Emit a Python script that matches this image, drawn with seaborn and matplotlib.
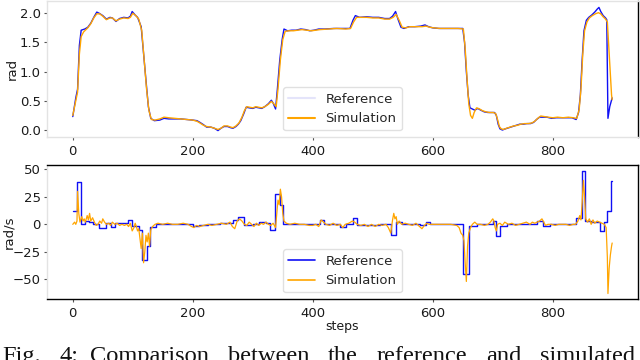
import matplotlib
matplotlib.use("Agg")
import matplotlib.pyplot as plt
from matplotlib.lines import Line2D
import seaborn as sns

# ---------------- data ----------------
# top panel: joint angle [rad]
ang_ref_steps = [0, 5, 8, 11, 14, 20, 25, 30, 35, 40, 44, 50, 56, 62, 66, 72, 78, 85, 92, 96,
                 99, 104, 108, 114, 118, 122, 126, 130, 136, 145, 152, 160, 170, 180, 190, 200,
                 207, 212, 218, 223, 230, 236, 242, 247, 252, 258, 263, 267, 272, 276, 280, 285,
                 289, 294, 300, 305, 310, 315, 320, 326, 331, 334, 338, 341, 345, 349, 352, 358,
                 365, 372, 380, 388, 395, 402, 410, 420, 435, 450, 462, 467, 471, 478, 490, 500,
                 510, 520, 528, 533, 538, 542, 547, 552, 560, 570, 580, 587, 593, 600, 610, 620,
                 630, 640, 650, 653, 656, 659, 662, 666, 670, 675, 680, 686, 692, 698, 703, 706,
                 709, 712, 716, 721, 727, 733, 739, 745, 751, 757, 763, 768, 773, 778, 784, 790,
                 798, 806, 815, 824, 832, 839, 843, 846, 849, 852, 856, 860, 865, 870, 874, 877,
                 880, 884, 888, 890, 892, 895, 899]
ang_ref = [0.23, 0.55, 0.70, 1.45, 1.71, 1.73, 1.76, 1.83, 1.93, 2.02, 2.00, 1.96, 1.90, 1.93,
           1.92, 1.86, 1.91, 1.93, 1.92, 1.95, 2.03, 1.97, 1.93, 1.77, 1.30, 0.85, 0.40, 0.20,
           0.16, 0.17, 0.20, 0.19, 0.19, 0.19, 0.18, 0.17, 0.16, 0.13, 0.09, 0.05, 0.05, 0.03,
           -0.01, 0.03, 0.06, 0.06, 0.04, 0.03, 0.06, 0.10, 0.16, 0.28, 0.39, 0.38, 0.37, 0.39,
           0.38, 0.37, 0.40, 0.45, 0.51, 0.46, 0.36, 0.70, 1.20, 1.55, 1.73, 1.70, 1.71, 1.71,
           1.73, 1.72, 1.70, 1.71, 1.73, 1.73, 1.74, 1.74, 1.74, 1.88, 1.96, 1.93, 1.94, 1.93,
           1.93, 1.91, 1.91, 1.95, 2.03, 1.90, 1.76, 1.74, 1.77, 1.77, 1.78, 1.80, 1.77, 1.75,
           1.74, 1.74, 1.74, 1.74, 1.74, 1.50, 1.00, 0.60, 0.38, 0.36, 0.34, 0.37, 0.34, 0.31,
           0.30, 0.30, 0.30, 0.25, 0.10, 0.02, 0.00, 0.02, 0.04, 0.06, 0.08, 0.10, 0.10, 0.11,
           0.11, 0.13, 0.18, 0.22, 0.22, 0.22, 0.20, 0.21, 0.21, 0.21, 0.21, 0.18, 0.30, 0.60,
           1.20, 1.70, 1.88, 1.93, 1.97, 2.02, 2.07, 2.10, 2.03, 1.96, 1.92, 1.89, 0.20, 0.40,
           0.55]

ang_sim_steps = [0, 5, 8, 11, 14, 18, 25, 30, 35, 40, 45, 50, 56, 62, 66, 72, 78, 85, 92, 96,
                 100, 105, 110, 115, 119, 123, 127, 131, 137, 145, 152, 160, 170, 180, 190, 200,
                 207, 212, 218, 223, 230, 236, 242, 247, 252, 258, 263, 267, 272, 277, 282, 286,
                 290, 295, 300, 305, 310, 315, 320, 326, 331, 335, 339, 342, 346, 350, 354, 360,
                 368, 375, 382, 390, 398, 405, 412, 425, 440, 455, 463, 468, 473, 480, 490, 500,
                 510, 520, 528, 534, 539, 544, 549, 555, 562, 572, 582, 589, 595, 602, 612, 622,
                 632, 642, 651, 654, 657, 660, 663, 666, 669, 673, 678, 683, 689, 695, 701, 705,
                 708, 711, 714, 718, 723, 729, 735, 741, 747, 753, 759, 765, 770, 775, 780, 786,
                 792, 800, 808, 817, 826, 834, 840, 844, 847, 850, 853, 857, 861, 866, 871, 876,
                 880, 884, 888, 891, 894, 896, 898, 899]
ang_sim = [0.25, 0.50, 0.65, 1.30, 1.60, 1.68, 1.75, 1.82, 1.92, 1.99, 1.99, 1.95, 1.89, 1.92,
           1.92, 1.87, 1.90, 1.92, 1.91, 1.93, 2.00, 1.96, 1.90, 1.70, 1.20, 0.70, 0.33, 0.18,
           0.17, 0.19, 0.22, 0.21, 0.20, 0.19, 0.18, 0.17, 0.15, 0.12, 0.08, 0.06, 0.05, 0.03,
           0.01, 0.03, 0.07, 0.07, 0.05, 0.04, 0.07, 0.12, 0.22, 0.33, 0.40, 0.39, 0.38, 0.40,
           0.39, 0.38, 0.40, 0.44, 0.49, 0.45, 0.40, 0.70, 1.20, 1.55, 1.69, 1.70, 1.70, 1.71,
           1.72, 1.71, 1.70, 1.71, 1.72, 1.73, 1.74, 1.73, 1.74, 1.85, 1.93, 1.93, 1.93, 1.92,
           1.92, 1.90, 1.90, 1.93, 1.98, 1.88, 1.76, 1.75, 1.77, 1.77, 1.77, 1.78, 1.76, 1.75,
           1.74, 1.74, 1.74, 1.74, 1.73, 1.40, 0.90, 0.45, 0.25, 0.20, 0.30, 0.38, 0.36, 0.33,
           0.31, 0.30, 0.30, 0.28, 0.18, 0.06, 0.02, 0.01, 0.03, 0.05, 0.07, 0.08, 0.10, 0.11,
           0.11, 0.12, 0.15, 0.20, 0.24, 0.23, 0.22, 0.21, 0.22, 0.21, 0.22, 0.21, 0.20, 0.35,
           0.70, 1.30, 1.70, 1.85, 1.92, 1.96, 1.99, 2.01, 1.99, 1.94, 1.90, 1.85, 1.30, 0.95,
           0.60, 0.52]

# bottom panel: joint velocity [rad/s]
vel_ref_steps = [0, 7, 14, 21, 27, 34, 44, 56, 64, 71, 92, 99, 110, 116, 123, 129, 139, 200,
                 211, 225, 245, 267, 275, 286, 300, 311, 322, 329, 337, 345, 351, 412, 418,
                 445, 456, 467, 474, 512, 531, 539, 548, 578, 589, 595, 651, 661, 673, 701,
                 705, 712, 723, 773, 783, 795, 839, 849, 854, 863, 878, 885, 890, 897, 899]
vel_ref = [12, 38.5, 0.6, 3, 2.3, 0, -3, 1.5, -2.5, 1.5, 3.5, -1.5, -5.5, -32.7, -19.7, -2.5,
           0, -1.5, -1, 0, 1.5, 3.6, 6.7, -1, 0, 2.4, 1.5, -5.5, 27.8, 17.3, 0, 4, 0,
           -2, 0, 5.8, -0.9, 0, -10, 2.4, 0, -1, 2.4, 0, -44.8, -1.5, 0, 3,
           -11, -1.5, 0.6, 3, -1.5, 0, 5.8, 49, 3, 2.4, -6, 2.4, 11.8, 39, 39]

vel_sim_steps = [0, 3, 5, 7, 8, 10, 12, 15, 17, 19, 21, 24, 26, 28, 30, 33, 36, 39, 42, 45, 48,
                 50, 53, 56, 60, 63, 66, 70, 74, 78, 82, 86, 90, 93, 96, 99, 102, 104, 106, 108,
                 110, 112, 114, 116, 118, 120, 122, 124, 126, 128, 130, 133, 137, 142, 150, 158,
                 166, 175, 184, 192, 198, 202, 206, 212, 218, 225, 232, 240, 248, 256, 262, 266,
                 270, 274, 278, 282, 286, 290, 294, 298, 302, 306, 310, 314, 318, 322, 326, 330,
                 334, 338, 340, 342, 344, 346, 348, 350, 352, 356, 362, 370, 378, 386, 394, 400,
                 405, 410, 414, 418, 422, 428, 434, 440, 446, 450, 454, 460, 466, 470, 474, 480,
                 486, 492, 498, 504, 510, 516, 522, 526, 530, 533, 535, 537, 539, 541, 544, 548,
                 554, 560, 566, 572, 578, 582, 586, 590, 594, 600, 610, 620, 630, 640, 644, 647,
                 650, 652, 654, 656, 658, 660, 663, 666, 670, 674, 680, 686, 692, 696, 700, 702,
                 704, 706, 708, 712, 716, 720, 726, 732, 738, 744, 750, 756, 762, 766, 770, 774,
                 778, 782, 785, 788, 792, 798, 804, 810, 816, 822, 828, 834, 838, 842, 845, 847,
                 849, 851, 853, 855, 858, 861, 864, 867, 870, 874, 878, 882, 886, 889, 891, 892,
                 894, 896, 898, 899]
vel_sim = [0, 2, 0, 3, 30, 10, 2, 7, 3, 5, 2, 8, 4, 10, 3, 6, 2, -1, 0, 3, 1,
           5, 2, 0, 1, -1, 2, 0, 1, -1, 0, -1, 0, -2, 1, -6, -3, 1, -2, -6,
           -4, -13, -22, -8, -35, -25, -10, -16, -8, -20, -5, -2, 0, 1, 0, 1,
           0, 0, 1, 0, -2, -3, -1, -2, -1, 0, -1, 0, 1, 0, 2, -2,
           -4, 3, 5, 3, 0, -1, 2, 0, -2, 1, -1, 1, 0, 2, 0, -1,
           1, -3, 10, 22, 18, 32, 25, 10, 3, 1, 0, 1, 0, 0, -1, -1,
           0, -2, 4, 2, 0, -1, 1, -1, 0, -3, 0, 1, 3, 2, 0, -1,
           0, -2, 0, -2, 0, -1, 0, -3, -8, 4, 10, 5, 7, 0, 3, 0,
           1, 0, -1, 1, -2, -4, -1, 1, 0, 0, 0, 0, 0, -1, -3, -8,
           -10, -15, -35, -52, -20, -8, -3, 0, 2, 0, 0, -1, 0, 2, 5, 3,
           -3, -6, 0, 1, -1, 2, 0, 1, -1, 0, 1, 2, 0, 2, 1, 2,
           3, 5, 2, -1, 0, 0, -1, 0, 0, 0, -1, 0, 0, 3, 8, 4,
           20, 40, 25, 5, 2, 5, 0, 4, 1, 3, 2, 1, 0, -3, -30, -63,
           -40, -28, -20, -17]

x_ticks = [0, 200, 400, 600, 800]
ang_ticks = [0.0, 0.5, 1.0, 1.5, 2.0]
vel_ticks = [-50, -25, 0, 25, 50]
series_names = ["Reference", "Simulation"]
caption_words = ["Fig.", "4:", "Comparison", "between", "the", "reference", "and", "simulated"]
caption_x_px = [2, 60, 90, 228, 328, 377, 486, 540]

# ---------------- style ----------------
sns.set_theme(style="white")
plt.rcParams["font.family"] = ["DejaVu Sans"]

C_REF = "#1010f5"
C_SIM = "#ffa500"
LIGHT = "#e3e3e3"
TXT = "#1a1a1a"

fig = plt.figure(figsize=(6.4, 3.6), dpi=100)
ax1 = fig.add_axes([0.0734, 0.6194, 0.9234, 0.3778])
ax2 = fig.add_axes([0.0734, 0.1694, 0.9234, 0.3722])

sns.lineplot(x=ang_ref_steps, y=ang_ref, ax=ax1, color=C_REF, lw=1.0,
             estimator=None, sort=False, legend=False)
sns.lineplot(x=ang_sim_steps, y=ang_sim, ax=ax1, color=C_SIM, lw=1.0,
             estimator=None, sort=False, legend=False)

sns.lineplot(x=vel_ref_steps, y=vel_ref, ax=ax2, color=C_REF, lw=1.0,
             estimator=None, sort=False, legend=False, drawstyle="steps-post")
sns.lineplot(x=vel_sim_steps, y=vel_sim, ax=ax2, color=C_SIM, lw=0.9,
             estimator=None, sort=False, legend=False)

ax1.set_xlim(-43, 942)
ax2.set_xlim(-43, 942)
ax1.set_ylim(-0.12, 2.21)
ax2.set_ylim(-68, 54)

ax1.set_xticks(x_ticks)
ax2.set_xticks(x_ticks)
ax1.set_yticks(ang_ticks)
ax1.set_yticklabels([f"{v:.1f}" for v in ang_ticks])
ax2.set_yticks(vel_ticks)
ax2.set_yticklabels([f"{v}".replace("-", "\u2212") for v in vel_ticks])

for ax in (ax1, ax2):
    ax.tick_params(axis="both", labelsize=9.5, colors=TXT)
    ax.tick_params(axis="y", left=True, length=2.5, width=0.8, pad=2, color="#555555")
    ax.tick_params(axis="x", bottom=True, length=2, width=0.8, pad=3.5, color="#555555")
    ax.grid(False)

# spines
for side in ("left", "bottom", "top"):
    ax1.spines[side].set_color(LIGHT)
ax1.spines["right"].set_color("black")
ax2.spines["left"].set_color(LIGHT)
for side in ("bottom", "top", "right"):
    ax2.spines[side].set_color("black")
for ax in (ax1, ax2):
    for sp in ax.spines.values():
        sp.set_linewidth(1.0)
        sp.set_visible(True)

ax1.set_ylabel("rad", fontsize=9.5, color=TXT)
ax2.set_ylabel("rad/s", fontsize=9.5, color=TXT)
ax1.yaxis.set_label_coords(-0.048, 0.5)
ax2.yaxis.set_label_coords(-0.053, 0.5)
ax1.set_xlabel("")
ax2.set_xlabel("steps", fontsize=9, color=TXT, labelpad=0)

h_top = [Line2D([], [], color="#e4e4fa", lw=1.5), Line2D([], [], color=C_SIM, lw=1.5)]
h_bot = [Line2D([], [], color=C_REF, lw=1.2), Line2D([], [], color=C_SIM, lw=1.2)]
ax1.legend(h_top, series_names, loc="lower center", fontsize=9.5, frameon=True,
           edgecolor="#dddddd", framealpha=0.9)
ax2.legend(h_bot, series_names, loc="lower center", fontsize=9.5, frameon=True,
           edgecolor="#dddddd", framealpha=0.9)

# caption (cut off at the bottom of the image, as in the reference)
for word, xp in zip(caption_words, caption_x_px):
    fig.text(xp / 640, -0.0056, word, fontsize=17.6, va="baseline", ha="left",
             family=["Liberation Serif", "DejaVu Serif"], color="#111111")

fig.savefig("out.png", dpi=100)
